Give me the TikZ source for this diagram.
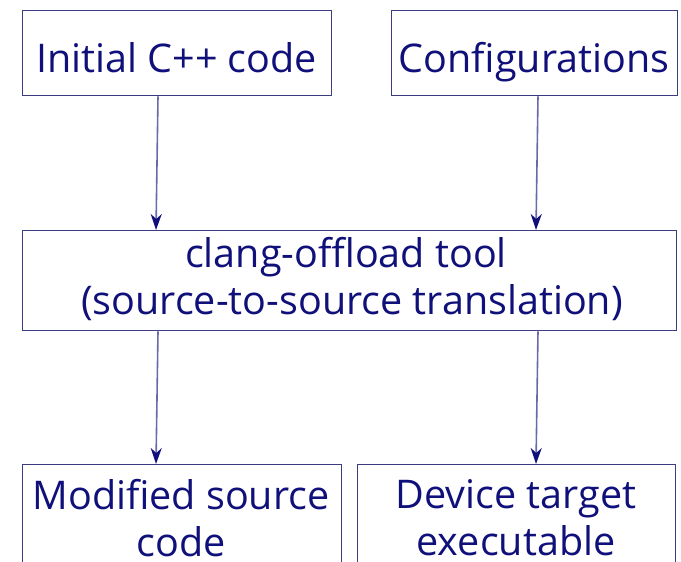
\documentclass[tikz,border=0pt]{standalone}
\usepackage{fontspec}
\setmainfont{Open Sans}
\usetikzlibrary{arrows.meta}
\definecolor{navytxt}{HTML}{10107A}
\definecolor{boxline}{HTML}{3C3C82}
\definecolor{arrline}{HTML}{6A6AAA}
\tikzset{
  box/.style={draw=boxline, line width=1.4pt, rectangle, inner sep=0pt, anchor=north west},
  txt/.style={text=navytxt, font=\fontsize{39.5}{47}\selectfont, align=center, inner sep=0pt},
  arr/.style={draw=arrline, line width=1.6pt, -{Stealth[length=16pt,width=11pt,inset=5pt,color=navytxt]}}
}
\begin{document}
\begin{tikzpicture}[x=1pt,y=-1pt]
\useasboundingbox (0,0) rectangle (681,562);
\clip (0,0) rectangle (681,562);
% boxes
\node[box, minimum width=309pt, minimum height=85pt] (ini) at (22,10) {};
\node[box, minimum width=286pt, minimum height=85pt] (cfg) at (391,10) {};
\node[box, minimum width=654pt, minimum height=100pt] (mid) at (22,230) {};
\node[box, minimum width=319pt, minimum height=140pt] (mod) at (22,464) {};
\node[box, minimum width=318pt, minimum height=140pt] (dev) at (357,464) {};
% texts
\node[txt, anchor=base] (tini) at (176.5,72) {Initial C++ code};
\node[txt, anchor=base] (tcfg) at (534,72) {Configurations};
\node[txt] (tmid) at (346,279) {clang-offload tool\\ \hspace*{12pt}(source-to-source translation)};
\node[txt] (tmod) at (181,518) {Modified source\\code};
\node[txt] (tdev) at (516,518) {Device target\\executable};
% arrow x positions
\coordinate (xa) at (158,0);
\coordinate (xb) at (156,0);
\coordinate (xc) at (538,0);
\coordinate (xd) at (536,0);
\draw[arr] (ini.south -| xa) -- (mid.north -| xb);
\draw[arr] (cfg.south -| xc) -- (mid.north -| xd);
\draw[arr] (mid.south -| xa) -- (mod.north -| xb);
\draw[arr] (mid.south -| xc) -- (dev.north -| xd);
\end{tikzpicture}
\end{document}
